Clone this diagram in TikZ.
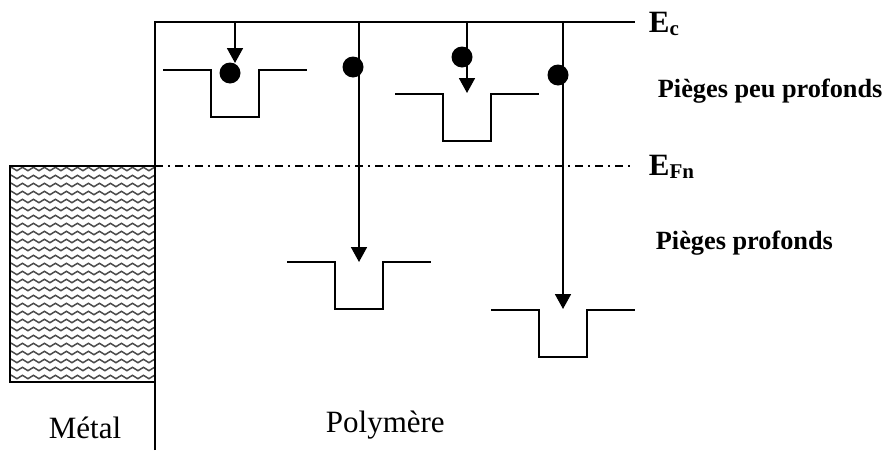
\documentclass[tikz,border=0pt]{standalone}
\usepackage{fontspec}
\setmainfont{Liberation Serif}
\usetikzlibrary{arrows.meta,decorations.pathmorphing}

\begin{document}
\begin{tikzpicture}[x=1pt,y=-1pt,line width=1.8pt,
  electron/.style={circle,fill=black,draw=none,inner sep=0pt,minimum size=21pt},
  fall/.style={-{Triangle[width=16pt,length=15pt]}},
  band/.style={font=\fontsize{31}{31}\selectfont\bfseries,anchor=base west,inner sep=0pt},
  trapname/.style={font=\fontsize{26.3}{30}\selectfont\bfseries,anchor=base west,inner sep=0pt},
  region/.style={font=\fontsize{31}{31}\selectfont,anchor=base west,inner sep=0pt},
  wave/.style={black!70,line width=1.5pt,decorate,
    decoration={snake,amplitude=1.7pt,segment length=11pt}},
  fermi/.style={line width=1.6pt,dash pattern=on 8pt off 5pt on 2pt off 5pt},
  pics/trap/.style={code={
    \draw (-72,0) -- (-24,0) -- (-24,47) -- (24,47) -- (24,0) -- (72,0);}}]
\useasboundingbox (0,0) rectangle (886,450);

% metal electrode filled with wavy hatching
\begin{scope}
  \clip (10,166) rectangle (155,382);
  \foreach \y in {169,177,...,385}
    \draw[wave] (8,\y) -- (170,\y);
\end{scope}
\draw (10,166) rectangle (155,382);

% interface and conduction band edge
\coordinate (base) at (155,450);
\coordinate (corner) at (155,22);
\coordinate (ecend) at (635,22);
\draw (base) -- (corner) -- (ecend);

% quasi Fermi level
\coordinate (fl) at (155,166);
\coordinate (fr) at (633,166);
\draw[fermi] (fl) -- (fr);

% traps: shallow and deep
\pic at (235,70) {trap};
\pic at (467,94) {trap};
\pic at (359,262) {trap};
\pic at (563,310) {trap};

% electron transitions from the band edge
\coordinate (s1) at (235,22);  \coordinate (t1) at (235,63);
\coordinate (s2) at (359,22);  \coordinate (t2) at (359,262);
\coordinate (s3) at (467,22);  \coordinate (t3) at (467,93);
\coordinate (s4) at (563,22);  \coordinate (t4) at (563,309);
\draw[fall] (s1) -- (t1);
\draw[fall] (s2) -- (t2);
\draw[fall] (s3) -- (t3);
\draw[fall] (s4) -- (t4);

\node[electron] (e1) at (230,73) {};
\node[electron] (e2) at (353,67) {};
\node[electron] (e3) at (462,57) {};
\node[electron] (e4) at (558,75) {};

% labels
\node[band] (Ec) at (648,32) {E\raisebox{-3pt}{\fontsize{21}{21}\selectfont c}};
\node[band] (EFn) at (648,175) {E\raisebox{-3pt}{\fontsize{21}{21}\selectfont Fn}};
\node[trapname] (shallow) at (657,97) {Pièges peu profonds};
\node[trapname] (deep) at (655,249) {Pièges profonds};
\node[region] (metal) at (48,438) {Métal};
\node[region] (poly) at (325,432) {Polymère};
\end{tikzpicture}
\end{document}
